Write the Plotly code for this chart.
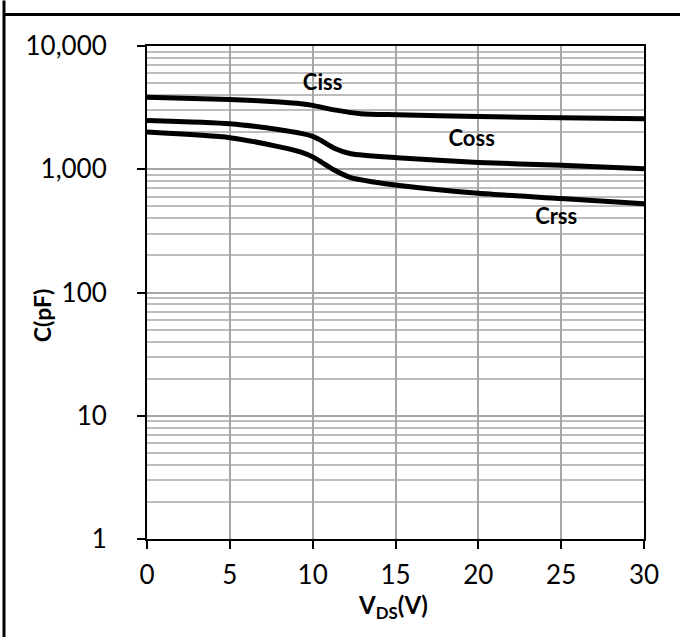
import plotly.graph_objects as go

vds_ciss = [0, 5, 8, 9.3, 10, 11.3, 12.9, 15.1, 20, 25, 30]
ciss = [3846, 3681, 3520, 3404, 3298, 3030, 2823, 2769, 2673, 2618, 2570]

vds_coss = [0, 5, 8, 9.3, 10, 10.5, 11.3, 12.3, 15.1, 20, 25, 30]
coss = [2489, 2342, 2095, 1954, 1849, 1714, 1480, 1337, 1241, 1137, 1076, 1011]

vds_crss = [0, 5, 8, 9.3, 10, 10.5, 11.3, 12.3, 13.7, 15.1, 20, 25, 30]
crss = [2001, 1803, 1520, 1378, 1260, 1150, 985, 855, 788, 741, 638, 578, 526]

labels = ["Ciss", "Coss", "Crss"]
label_x = [10.6, 19.6, 24.7]
label_y = [4875, 1714, 400]

x_ticks = [0, 5, 10, 15, 20, 25, 30]
y_ticks = [1, 10, 100, 1000, 10000]
y_ticklabels = ["1", "10", "100", "1,000", "10,000"]

x_title = "<b>V<sub>DS</sub>(V)</b>"
y_title = "<b>C(pF)</b>"

FONT = "Lato"

fig = go.Figure()
for xs, ys in [(vds_ciss, ciss), (vds_coss, coss), (vds_crss, crss)]:
    fig.add_trace(go.Scatter(x=xs, y=ys, mode="lines",
                             line=dict(color="black", width=5, shape="spline", smoothing=0.6),
                             showlegend=False, hoverinfo="skip"))

fig.add_trace(go.Scatter(x=label_x, y=label_y, mode="text", text=labels,
                         textfont=dict(family=FONT, size=22, color="black", weight="bold"),
                         showlegend=False, hoverinfo="skip"))

L, R, T, B = 147, 644, 45.5, 539
W, H = 680, 637

def px(xp):
    return (xp - L) / (R - L)

def py(yp):
    return (B - yp) / (B - T)

fig.update_layout(
    width=W, height=H,
    margin=dict(l=L, r=W - R, t=T, b=H - B),
    paper_bgcolor="white", plot_bgcolor="white",
    font=dict(family=FONT, color="black"),
    xaxis=dict(range=[0, 30], tickvals=x_ticks, ticks="outside", ticklen=8, tickwidth=2,
               tickcolor="black", showline=True, linecolor="black", linewidth=2, mirror=True,
               showgrid=True, gridcolor="#a6a6a6", gridwidth=2, zeroline=False,
               ticklabelstandoff=4,
               tickfont=dict(family=FONT, size=26, color="black")),
    yaxis=dict(type="log", range=[0, 4], tickvals=y_ticks, ticktext=y_ticklabels,
               ticks="outside", ticklen=8, tickwidth=2, tickcolor="black",
               showline=True, linecolor="black", linewidth=2, mirror=True,
               showgrid=True, gridcolor="#a6a6a6", gridwidth=2, zeroline=False,
               minor=dict(showgrid=True, gridcolor="#bdbdbd", gridwidth=1.5, dtick="D1", ticks=""),
               ticklabelstandoff=25,
               tickfont=dict(family=FONT, size=26, color="black")),
    annotations=[
        dict(text=x_title, xref="paper", yref="paper", x=px(393), y=py(607),
             xanchor="center", yanchor="middle", showarrow=False,
             font=dict(family=FONT, size=24, color="black")),
        dict(text=y_title, xref="paper", yref="paper", x=px(42), y=py(315),
             xanchor="center", yanchor="middle", showarrow=False, textangle=-90,
             font=dict(family=FONT, size=23, color="black")),
    ],
    shapes=[
        dict(type="line", xref="paper", yref="paper", x0=px(4), x1=px(4), y0=py(0), y1=py(H),
             line=dict(color="black", width=3)),
        dict(type="line", xref="paper", yref="paper", x0=px(3), x1=px(W + 2), y0=py(14), y1=py(14),
             line=dict(color="black", width=3)),
    ],
)

fig.write_html("out.html")
